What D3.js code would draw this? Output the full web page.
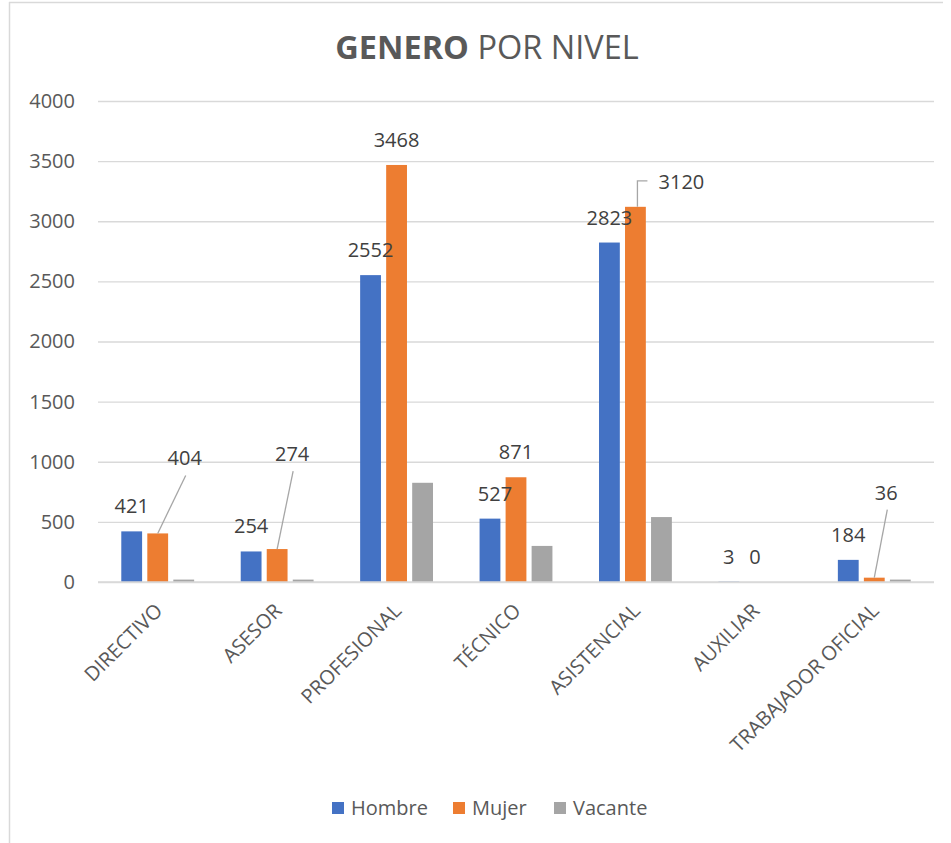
<!DOCTYPE html>
<html>
<head>
<meta charset="utf-8">
<script src="https://cdn.jsdelivr.net/npm/d3@7"></script>
<style>
  html, body { margin: 0; padding: 0; background: #fff; }
  svg { display: block; font-family: "Open Sans", "Noto Sans", sans-serif; }
</style>
</head>
<body>
<svg id="chart" width="951" height="843"></svg>
<script>
// ---- data ----
const categories = ["DIRECTIVO", "ASESOR", "PROFESIONAL", "TÉCNICO", "ASISTENCIAL", "AUXILIAR", "TRABAJADOR OFICIAL"];
const seriesNames = ["Hombre", "Mujer", "Vacante"];
const hombre  = [421, 254, 2552, 527, 2823, 3, 184];
const mujer   = [404, 274, 3468, 871, 3120, 0, 36];
const vacante = [20, 20, 825, 300, 540, 0, 20];
const yTicks  = [0, 500, 1000, 1500, 2000, 2500, 3000, 3500, 4000];

// ---- styling / layout (not data) ----
const colors = { Hombre: "#4472C4", Mujer: "#ED7D31", Vacante: "#A5A5A5" };
const showLabels = { Hombre: true, Mujer: true, Vacante: false };
const labelMoves = {
  "Mujer|DIRECTIVO":          { dx: 27, dy: -50, leader: "straight" },
  "Mujer|ASESOR":             { dx: 15, dy: -70, leader: "straight" },
  "Mujer|ASISTENCIAL":        { dx: 46, dy: 0,   leader: "elbow" },
  "Mujer|TRABAJADOR OFICIAL": { dx: 12, dy: -60, leader: "straight" },
  "Hombre|TÉCNICO":           { dx: 5,  dy: 0 }
};
const FS = "20px";

const svg = d3.select("#chart");
const plotL = 98, plotR = 934, plotT = 101, plotB = 582;

// border
svg.append("line").attr("x1", 9.5).attr("x2", 9.5).attr("y1", 2).attr("y2", 843)
  .attr("stroke", "#d9d9d9").attr("stroke-width", 1.5);
svg.append("line").attr("x1", 9).attr("x2", 943).attr("y1", 2.5).attr("y2", 2.5)
  .attr("stroke", "#d9d9d9").attr("stroke-width", 1.5);

const x0 = d3.scaleBand().domain(categories).range([plotL, plotR]).paddingInner(0.39).paddingOuter(0.195);
const x1 = d3.scaleBand().domain(seriesNames).range([0, x0.bandwidth()]).paddingInner(0.2);
const y = d3.scaleLinear().domain([0, 4000]).range([plotB, plotT]);

// title
const title = svg.append("text").attr("x", 487).attr("y", 59).attr("text-anchor", "middle")
  .attr("fill", "#595959").style("font-size", "32.5px");
title.append("tspan").attr("font-weight", "bold").text("GENERO");
title.append("tspan").text(" POR NIVEL");

// gridlines + y axis
const yAxis = d3.axisLeft(y).tickValues(yTicks).tickFormat(d3.format("d"))
  .tickSize(-(plotR - plotL)).tickPadding(23);
const gy = svg.append("g").attr("transform", `translate(${plotL},0)`).call(yAxis);
gy.select(".domain").remove();
gy.selectAll(".tick line").attr("stroke", "#d9d9d9").attr("stroke-width", 1.3);
gy.selectAll(".tick text").attr("fill", "#595959").style("font-size", FS)
  .style("font-family", "'Open Sans', sans-serif");

// bars
const seriesData = { Hombre: hombre, Mujer: mujer, Vacante: vacante };
const rows = [];
seriesNames.forEach(s => categories.forEach((c, i) => rows.push({ s, c, v: seriesData[s][i] })));

svg.append("g").selectAll("rect").data(rows).join("rect")
  .attr("x", d => x0(d.c) + x1(d.s))
  .attr("y", d => y(d.v))
  .attr("width", x1.bandwidth())
  .attr("height", d => y(0) - y(d.v))
  .attr("fill", d => colors[d.s]);

// x axis (category labels)
const xAxis = d3.axisBottom(x0).tickSize(0).tickPadding(0);
const gx = svg.append("g").attr("transform", `translate(0,${plotB})`).call(xAxis);
gx.select(".domain").remove();
gx.selectAll(".tick text")
  .attr("fill", "#595959").style("font-size", FS)
  .style("font-family", "'Open Sans', sans-serif")
  .attr("text-anchor", "end")
  .attr("y", 0)
  .attr("dy", "0.35em")
  .attr("transform", "translate(1,25) rotate(-45)");

// zero baseline
svg.append("line").attr("x1", plotL).attr("x2", plotR).attr("y1", y(0)).attr("y2", y(0))
  .attr("stroke", "#d9d9d9").attr("stroke-width", 1.3);

// data labels
const lg = svg.append("g");
rows.filter(d => showLabels[d.s]).forEach(d => {
  const bx = x0(d.c) + x1(d.s) + x1.bandwidth() / 2;
  const by = y(d.v);
  const mv = labelMoves[d.s + "|" + d.c] || { dx: 0, dy: 0 };
  const lx = bx + mv.dx, ly = by - 18 + mv.dy;
  lg.append("text").attr("x", lx).attr("y", ly).attr("text-anchor", "middle")
    .attr("fill", "#404040").style("font-size", FS).text(d.v);
  if (mv.leader === "straight") {
    lg.append("line").attr("x1", lx + 1).attr("y1", ly + 10).attr("x2", bx).attr("y2", by)
      .attr("stroke", "#a6a6a6").attr("stroke-width", 1.3);
  } else if (mv.leader === "elbow") {
    lg.append("path").attr("d", `M${lx - 34},${ly - 8} H${bx + 2} V${by}`)
      .attr("fill", "none").attr("stroke", "#a6a6a6").attr("stroke-width", 1.3);
  }
});

// legend
const legendItems = [
  { s: "Hombre", x: 332 },
  { s: "Mujer", x: 453 },
  { s: "Vacante", x: 554 }
];
const leg = svg.append("g");
legendItems.forEach(it => {
  leg.append("rect").attr("x", it.x).attr("y", 802).attr("width", 12).attr("height", 12).attr("fill", colors[it.s]);
  leg.append("text").attr("x", it.x + 19).attr("y", 808).attr("dy", "0.35em")
    .attr("fill", "#595959").style("font-size", FS).text(it.s);
});
</script>
</body>
</html>
